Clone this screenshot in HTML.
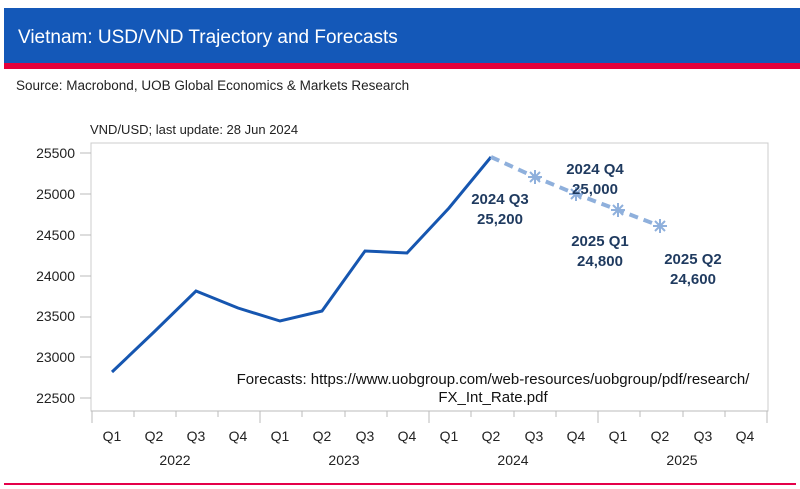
<!DOCTYPE html>
<html><head><style>
body{margin:0;width:800px;height:489px;background:#fff;overflow:hidden;position:relative;font-family:"Liberation Sans",sans-serif}
.hdr{position:absolute;left:4px;top:8px;width:796px;height:55px;background:#1458b8}
.red{position:absolute;left:4px;top:63px;width:796px;height:6px;background:#e4003a}
.t{position:absolute;left:18px;top:27px;color:#fff;font-size:19px}
.src{position:absolute;left:16px;top:78px;font-size:13.5px;color:#222}
.bot{position:absolute;left:4px;top:483px;width:792px;height:2px;background:#e4004a}
</style></head><body>
<div class="hdr"></div><div class="red"></div>
<div class="t">Vietnam: USD/VND Trajectory and Forecasts</div>
<div class="src">Source: Macrobond, UOB Global Economics &amp; Markets Research</div>
<div class="bot"></div>
<svg style="position:absolute;left:0;top:0" width="800" height="489" font-family="Liberation Sans, sans-serif">
<text x="90" y="134" font-size="13" fill="#222">VND/USD; last update: 28 Jun 2024</text>
<rect x="91" y="143" width="677" height="268" fill="none" stroke="#ccc"/>
<g font-size="14" fill="#222" text-anchor="end">
<text x="75" y="158">25500</text><text x="75" y="199">25000</text><text x="75" y="240">24500</text>
<text x="75" y="281">24000</text><text x="75" y="321">23500</text><text x="75" y="362">23000</text><text x="75" y="403">22500</text>
</g>
<g stroke="#bbb"><line x1="80" y1="153" x2="91" y2="153"/><line x1="80" y1="194" x2="91" y2="194"/><line x1="80" y1="235" x2="91" y2="235"/><line x1="80" y1="276" x2="91" y2="276"/><line x1="80" y1="317" x2="91" y2="317"/><line x1="80" y1="357" x2="91" y2="357"/><line x1="80" y1="398" x2="91" y2="398"/>
<line x1="91" y1="411" x2="768" y2="411"/>
<path d="M92 411v12M134 411v6M176 411v6M218 411v6M260 411v12M302 411v6M345 411v6M387 411v6M429 411v12M471 411v6M514 411v6M556 411v6M598 411v12M640 411v6M683 411v6M725 411v6M767 411v12"/></g>
<g font-size="14" fill="#222" text-anchor="middle">
<text x="112" y="441">Q1</text><text x="154" y="441">Q2</text><text x="196" y="441">Q3</text><text x="238" y="441">Q4</text>
<text x="280" y="441">Q1</text><text x="322" y="441">Q2</text><text x="365" y="441">Q3</text><text x="407" y="441">Q4</text>
<text x="449" y="441">Q1</text><text x="491" y="441">Q2</text><text x="534" y="441">Q3</text><text x="576" y="441">Q4</text>
<text x="618" y="441">Q1</text><text x="660" y="441">Q2</text><text x="703" y="441">Q3</text><text x="745" y="441">Q4</text>
<text x="175" y="465">2022</text><text x="344" y="465">2023</text><text x="513" y="465">2024</text><text x="682" y="465">2025</text>
</g>
<polyline points="112,372 154,332 196,291 238,308 280,321 322,311 365,251 407,253 449,208 491,157" fill="none" stroke="#1656b0" stroke-width="3"/>
<polyline points="491,157 535,177 576,194 618,210 660,226" fill="none" stroke="#8fb0dc" stroke-width="4" stroke-dasharray="9,6"/>
<g stroke="#8fb0dc" stroke-width="2">
<path d="M535 170v14M528 177h14M530 172l10 10M540 172l-10 10"/>
<path d="M576 187v14M569 194h14M571 189l10 10M581 189l-10 10"/>
<path d="M618 203v14M611 210h14M613 205l10 10M623 205l-10 10"/>
<path d="M660 219v14M653 226h14M655 221l10 10M665 221l-10 10"/>
</g>
<g font-size="15" font-weight="bold" fill="#1f3a5f" text-anchor="middle">
<text x="500" y="204">2024 Q3</text><text x="500" y="224">25,200</text>
<text x="595" y="174">2024 Q4</text><text x="595" y="194">25,000</text>
<text x="600" y="246">2025 Q1</text><text x="600" y="266">24,800</text>
<text x="693" y="264">2025 Q2</text><text x="693" y="284">24,600</text>
</g>
<text x="493" y="384" font-size="15" fill="#111" text-anchor="middle">Forecasts: https://www.uobgroup.com/web-resources/uobgroup/pdf/research/</text>
<text x="493" y="402" font-size="15" fill="#111" text-anchor="middle">FX_Int_Rate.pdf</text>
</svg>
</body></html>
